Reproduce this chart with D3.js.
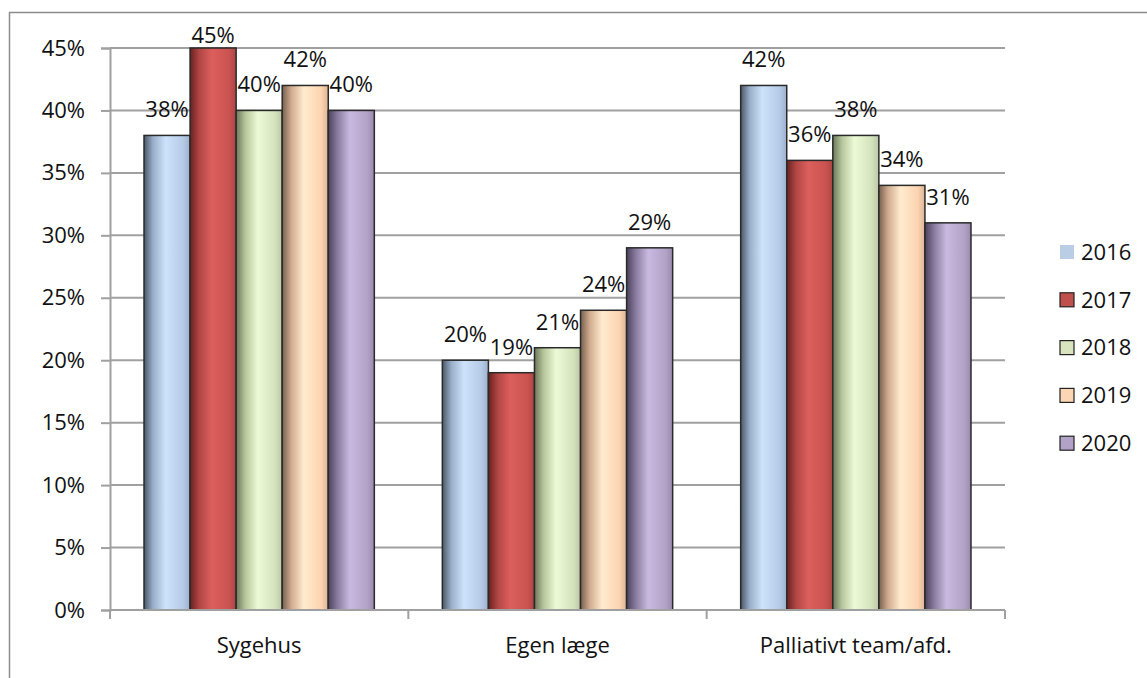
<!DOCTYPE html>
<html>
<head>
<meta charset="utf-8">
<script src="https://cdn.jsdelivr.net/npm/d3@7"></script>
<style>
  body { margin: 0; background: #fff; }
  text { font-family: "Open Sans", "Noto Sans", sans-serif; fill: #111; }
</style>
</head>
<body>
<div id="chart"></div>
<script>
// Chart data
const categories = ["Sygehus", "Egen læge", "Palliativt team/afd."];
const years = ["2016", "2017", "2018", "2019", "2020"];
const values2016 = [38, 20, 42];
const values2017 = [45, 19, 36];
const values2018 = [40, 21, 38];
const values2019 = [42, 24, 34];
const values2020 = [40, 29, 31];
const yTicks = [0, 5, 10, 15, 20, 25, 30, 35, 40, 45];

const series = [values2016, values2017, values2018, values2019, values2020];

// Legend swatch colours and bar gradient stops per year
const swatch = ["#b9cde5", "#c0504d", "#d7e4bd", "#fcd5b5", "#b3a2c7"];
const gradients = [
  ["#4a5868", "#9ab0ca", "#cde3fc", "#b5cae6", "#9db1cd"],
  ["#682120", "#b04644", "#dc5f5c", "#c95350", "#ac4543"],
  ["#6c7758", "#b6c69c", "#ecfad6", "#d4e2bc", "#b9c7a3"],
  ["#76604e", "#d0ab8f", "#ffebcf", "#fcd3b0", "#ddb595"],
  ["#4a4259", "#897ba0", "#c9b9e0", "#b2a2c8", "#998aae"],
];
const stopOffsets = [0, 0.2, 0.47, 0.85, 1];

const WIDTH = 1147;
const HEIGHT = 678;
const FONT = "22px";
const plot = { left: 110, right: 1005, top: 48, bottom: 610 };

const svg = d3
  .select("#chart")
  .append("svg")
  .attr("width", WIDTH)
  .attr("height", HEIGHT);

// Outer frame (runs off the right and bottom of the picture)
svg
  .append("rect")
  .attr("x", 9.5)
  .attr("y", 12.5)
  .attr("width", WIDTH + 20)
  .attr("height", HEIGHT + 20)
  .attr("fill", "none")
  .attr("stroke", "#8c8c8c")
  .attr("stroke-width", 1.5);

const defs = svg.append("defs");
gradients.forEach((stops, i) => {
  const g = defs
    .append("linearGradient")
    .attr("id", `grad${i}`)
    .attr("x1", "0%")
    .attr("x2", "100%")
    .attr("y1", "0%")
    .attr("y2", "0%");
  stops.forEach((c, j) => {
    g.append("stop").attr("offset", stopOffsets[j]).attr("stop-color", c);
  });
});

// Scales
const y = d3.scaleLinear().domain([0, 45]).range([plot.bottom, plot.top]);

const x0 = d3
  .scaleBand()
  .domain(categories)
  .range([plot.left, plot.right])
  .padding(0);

const x1 = d3
  .scaleBand()
  .domain(years)
  .range([x0.bandwidth() * 0.114, x0.bandwidth() * (1 - 0.114)])
  .padding(0);

// Gridlines
svg
  .append("g")
  .selectAll("line")
  .data(yTicks.filter((d) => d > 0))
  .join("line")
  .attr("x1", plot.left)
  .attr("x2", plot.right)
  .attr("y1", (d) => y(d))
  .attr("y2", (d) => y(d))
  .attr("stroke", "#a0a0a0")
  .attr("stroke-width", 2);

// Y axis
const yAxis = svg
  .append("g")
  .attr("transform", `translate(${plot.left},0)`)
  .call(
    d3
      .axisLeft(y)
      .tickValues(yTicks)
      .tickSize(9)
      .tickPadding(16)
      .tickFormat((d) => d + "%")
  );
yAxis.select(".domain").attr("stroke", "#a0a0a0").attr("stroke-width", 2);
yAxis.selectAll(".tick line").attr("stroke", "#a0a0a0").attr("stroke-width", 2);
yAxis
  .selectAll(".tick text")
  .style("font-family", '"Open Sans", sans-serif')
  .style("font-size", FONT)
  .attr("fill", "#111");

// Bars
const groups = svg
  .append("g")
  .selectAll("g")
  .data(categories)
  .join("g")
  .attr("transform", (d) => `translate(${x0(d)},0)`);

groups
  .selectAll("rect")
  .data((d, ci) => years.map((yr, si) => ({ yr, si, v: series[si][ci] })))
  .join("rect")
  .attr("x", (d) => x1(d.yr))
  .attr("y", (d) => y(d.v))
  .attr("width", x1.bandwidth())
  .attr("height", (d) => y(0) - y(d.v))
  .attr("fill", (d) => `url(#grad${d.si})`)
  .attr("stroke", "#2a2a2a")
  .attr("stroke-width", 1.5);

// Value labels (kept inside the frame, like the original)
groups
  .selectAll("text.value")
  .data((d, ci) => years.map((yr, si) => ({ yr, si, v: series[si][ci] })))
  .join("text")
  .attr("class", "value")
  .attr("x", (d) => x1(d.yr) + x1.bandwidth() / 2)
  .attr("y", (d) => Math.max(y(d.v) - 18, 43))
  .attr("text-anchor", "middle")
  .style("font-size", FONT)
  .text((d) => d.v + "%");

// X axis
const xAxis = svg
  .append("g")
  .attr("transform", `translate(0,${plot.bottom})`);

xAxis
  .append("line")
  .attr("x1", plot.left)
  .attr("x2", plot.right)
  .attr("stroke", "#a0a0a0")
  .attr("stroke-width", 2);

xAxis
  .selectAll("line.tick")
  .data([...categories.map((c) => x0(c)), plot.right])
  .join("line")
  .attr("class", "tick")
  .attr("x1", (d) => d)
  .attr("x2", (d) => d)
  .attr("y1", 0)
  .attr("y2", 9)
  .attr("stroke", "#a0a0a0")
  .attr("stroke-width", 2);

xAxis
  .selectAll("text")
  .data(categories)
  .join("text")
  .attr("x", (d) => x0(d) + x0.bandwidth() / 2)
  .attr("y", 43)
  .attr("text-anchor", "middle")
  .style("font-size", FONT)
  .text((d) => d);

// Legend
const legend = svg
  .append("g")
  .selectAll("g")
  .data(years)
  .join("g")
  .attr("transform", (d, i) => `translate(1060,${252 + i * 47.8})`);

legend
  .append("rect")
  .attr("x", 0)
  .attr("y", -7)
  .attr("width", 14)
  .attr("height", 14)
  .attr("fill", (d, i) => swatch[i])
  .attr("stroke", (d, i) => (i === 0 ? "none" : "#222"))
  .attr("stroke-width", 1.2);

legend
  .append("text")
  .attr("x", 21)
  .attr("y", 0)
  .attr("dy", "0.35em")
  .style("font-size", FONT)
  .text((d) => d);
</script>
</body>
</html>
